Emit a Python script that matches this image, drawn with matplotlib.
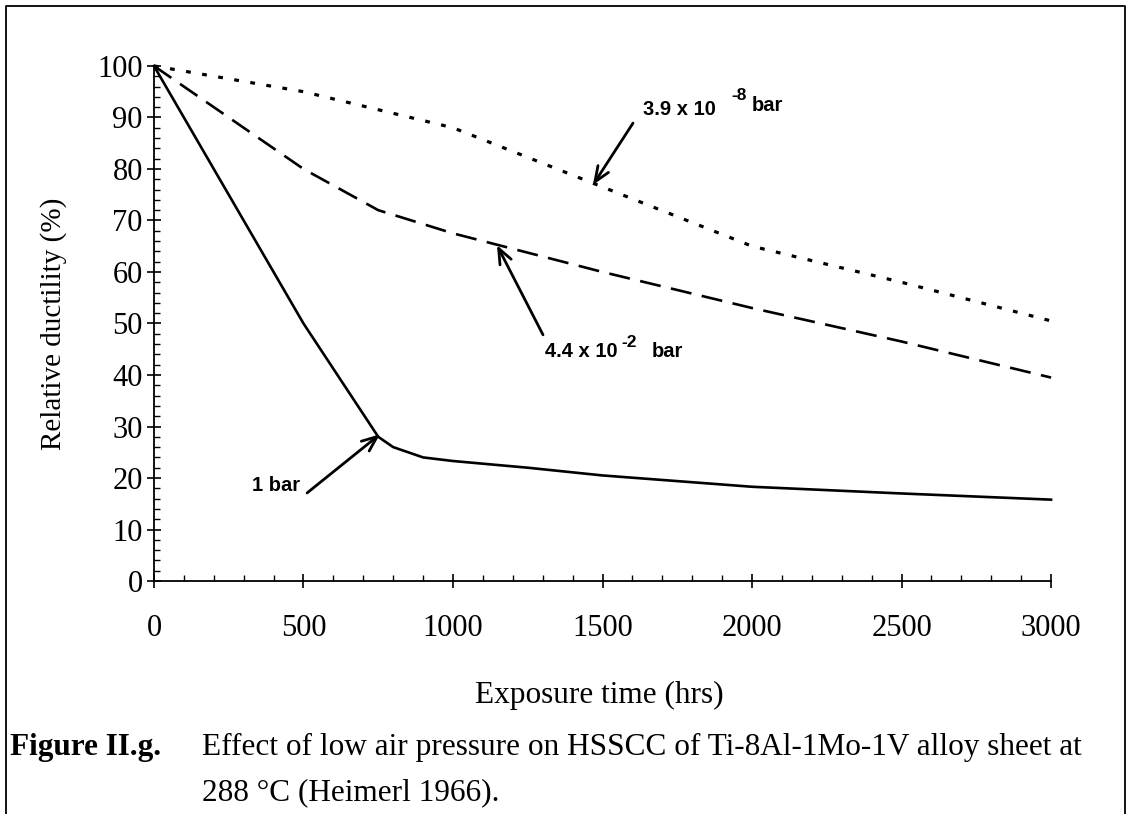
import matplotlib
matplotlib.use("Agg")
import matplotlib.pyplot as plt
from matplotlib.lines import Line2D
from matplotlib.ticker import MultipleLocator

# data (exposure time in hrs, relative ductility in %)
t_1bar = [0, 500, 750, 800, 900, 1000, 1250, 1500, 2000, 2500, 3000]
d_1bar = [100, 50, 28, 26, 24, 23.3, 22, 20.5, 18.3, 17.0, 15.8]

t_mid = [0, 250, 500, 750, 1000, 1500, 2000, 2500, 3000]
d_mid = [100, 90, 80, 72, 67.5, 60, 53, 46.5, 39.5]

t_low = [0, 500, 1000, 1500, 2000, 2500, 3000]
d_low = [100, 95, 88, 76.5, 65, 58, 50.5]

serif = "Liberation Serif"
sans = "Liberation Sans"

fig = plt.figure(figsize=(11.32, 8.14), dpi=100)
ax = fig.add_axes([0.136, 0.2862, 0.7925, 0.6328])

ax.plot(t_1bar, d_1bar, color="black", lw=1.9, clip_on=False)
ax.plot(t_mid, d_mid, color="black", lw=1.9, dashes=(8, 4), clip_on=False)
ax.plot(t_low, d_low, color="black", lw=2.3, dashes=(1.5, 3.6), clip_on=False)

ax.set_xlim(0, 3000)
ax.set_ylim(0, 100)
for s in ("top", "right"):
    ax.spines[s].set_visible(False)
for s in ("left", "bottom"):
    ax.spines[s].set_linewidth(1.3)

ax.xaxis.set_major_locator(MultipleLocator(500))
ax.xaxis.set_minor_locator(MultipleLocator(100))
ax.yaxis.set_major_locator(MultipleLocator(10))
ax.yaxis.set_minor_locator(MultipleLocator(2))
ax.tick_params(which="major", direction="inout", length=10, width=1.2)
ax.tick_params(which="minor", direction="in", length=4, width=1.0)
ax.tick_params(axis="x", which="major", pad=19)
ax.tick_params(axis="y", which="major", pad=3)
for lab in ax.get_xticklabels() + ax.get_yticklabels():
    lab.set_fontfamily(serif)
    lab.set_fontsize(22)

# axis titles
fig.text(0.529, 0.1364, "Exposure time (hrs)", family=serif, fontsize=22.5,
         ha="center", va="baseline")
fig.text(0.047, 0.6026, "Relative ductility (%)", family=serif, fontsize=21,
         rotation=90, ha="center", va="center")

# labels with arrows
arw = dict(arrowstyle="->,head_length=1.1,head_width=0.45", lw=2.0,
           color="black", shrinkA=0, shrinkB=0)
lab_kw = dict(family=sans, fontweight="bold", fontsize=14.5, va="baseline")
sup_kw = dict(family=sans, fontweight="bold", fontsize=12.5, va="baseline")

ax.annotate("", xy=(1468, 76.9), xytext=(1602, 88.9), arrowprops=arw)
ax.text(1635, 90.5, "3.9 x 10", **lab_kw)
ax.text(1930, 93.3, "-8", **sup_kw)
ax.text(2000, 91.3, "bar", **lab_kw)

ax.annotate("", xy=(1147, 65.2), xytext=(1301, 47.8), arrowprops=arw)
ax.text(1308, 43.5, "4.4 x 10", **lab_kw)
ax.text(1562, 45.4, "-2", **sup_kw)
ax.text(1666, 43.5, "bar", **lab_kw)

ax.annotate("", xy=(756, 28.5), xytext=(512, 17.1), arrowprops=arw)
ax.text(328, 17.5, "1 bar", **lab_kw)

# caption
fig.text(0.0088, 0.0725, "Figure II.g.", family=serif, fontweight="bold",
         fontsize=22.5, va="baseline")
fig.text(0.1784, 0.0725,
         "Effect of low air pressure on HSSCC of Ti-8Al-1Mo-1V alloy sheet at",
         family=serif, fontsize=22.5, va="baseline")
fig.text(0.1784, 0.0172, "288 \u00b0C (Heimerl 1966).", family=serif,
         fontsize=22.5, va="baseline")

# page frame
W, H = 1132, 814
fx = [6 / W, 6 / W, 1125 / W, 1125 / W]
fy = [0, 1 - 6 / H, 1 - 6 / H, 0]
fig.add_artist(Line2D(fx, fy, color="black", lw=1.3, transform=fig.transFigure))

fig.savefig("out.png", dpi=100)
